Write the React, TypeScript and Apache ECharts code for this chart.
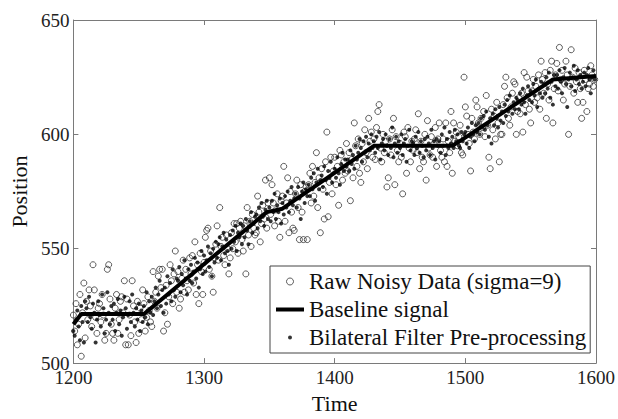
import React, { useEffect, useRef } from 'react';
import * as echarts from 'echarts';

const START_TIME = 1200;
const xTicks = { min: 1200, max: 1600, interval: 100 };
const yTicks = { min: 500, max: 650, interval: 50 };
const seriesNames = ['Raw Noisy Data (sigma=9)', 'Baseline signal', 'Bilateral Filter Pre-processing'];

// Raw noisy samples, one per time step starting at 1200
const rawPos = [
  521, 514, 526, 508, 517, 530, 503, 522, 535, 511,
  527, 519, 532, 525, 516, 543, 532, 520, 513, 524,
  526, 518, 530, 521, 510, 513, 541, 543, 528, 517,
  513, 510, 524, 530, 513, 519, 527, 529, 522, 536,
  508, 528, 508, 521, 512, 536, 525, 518, 509, 527,
  513, 524, 519, 532, 526, 514, 520, 529, 523, 518,
  516, 540, 527, 531, 524, 538, 541, 533, 541, 514,
  522, 534, 517, 529, 543, 536, 526, 539, 549, 531,
  540, 524, 528, 537, 545, 531, 541, 536, 532, 546,
  539, 547, 535, 553, 530, 543, 526, 548, 540, 530,
  544, 555, 558, 559, 541, 549, 538, 531, 546, 552,
  560, 545, 568, 551, 555, 547, 543, 556, 550, 539,
  546, 557, 550, 561, 553, 561, 548, 559, 562, 554,
  549, 560, 539, 568, 556, 562, 551, 565, 559, 556,
  557, 573, 566, 553, 561, 569, 563, 580, 559, 570,
  581, 565, 578, 570, 560, 567, 574, 562, 555, 571,
  573, 586, 562, 570, 581, 557, 575, 566, 559, 558,
  574, 580, 568, 554, 578, 566, 554, 575, 577, 554,
  578, 583, 570, 586, 573, 579, 592, 568, 581, 557,
  585, 576, 563, 588, 601, 564, 579, 590, 574, 584,
  590, 578, 586, 569, 593, 591, 580, 588, 583, 596,
  584, 592, 571, 589, 581, 605, 595, 586, 598, 583,
  579, 596, 588, 602, 592, 585, 607, 597, 601, 590,
  598, 589, 603, 610, 613, 594, 588, 600, 592, 597,
  577, 581, 598, 591, 602, 607, 578, 599, 593, 588,
  596, 590, 574, 601, 599, 583, 603, 594, 588, 597,
  593, 598, 602, 592, 609, 585, 597, 590, 588, 600,
  580, 606, 594, 591, 599, 590, 596, 603, 586, 598,
  605, 593, 590, 598, 588, 605, 586, 597, 592, 610,
  583, 605, 597, 601, 595, 599, 604, 592, 591, 625,
  612, 608, 600, 596, 584, 607, 601, 598, 615, 612,
  605, 600, 607, 603, 610, 599, 617, 604, 590, 585,
  611, 602, 608, 598, 614, 605, 588, 600, 600, 613,
  621, 625, 616, 607, 604, 612, 618, 623, 622, 600,
  610, 616, 609, 618, 601, 627, 613, 625, 619, 611,
  605, 619, 624, 614, 621, 616, 626, 611, 632, 624,
  618, 627, 607, 622, 615, 628, 632, 605, 620, 626,
  631, 619, 638, 624, 628, 615, 622, 632, 626, 600,
  621, 637, 625, 618, 629, 623, 614, 627, 620, 607,
  614, 628, 624, 610, 620, 622, 630, 626, 621, 624,
];

// Bilateral-filtered samples, one per time step starting at 1200
const filteredPos = [
  514, 512, 519, 523, 516, 510, 525, 518, 509, 527,
  524, 518, 529, 520, 515, 526, 522, 509, 519, 527,
  521, 516, 530, 524, 513, 519, 531, 522, 517, 525,
  519, 526, 514, 522, 528, 517, 523, 512, 520, 529,
  524, 515, 521, 527, 518, 530, 522, 516, 524, 519,
  526, 514, 523, 518, 525, 520, 531, 517, 527, 522,
  529, 521, 527, 533, 524, 530, 536, 525, 532, 522,
  533, 526, 538, 530, 535, 527, 541, 532, 529, 537,
  536, 542, 531, 539, 534, 545, 537, 530, 541, 536,
  543, 535, 540, 546, 537, 544, 533, 541, 549, 539,
  547, 540, 545, 551, 542, 548, 538, 550, 544, 553,
  546, 552, 555, 545, 551, 557, 548, 554, 549, 543,
  556, 550, 558, 553, 560, 549, 557, 555, 561, 552,
  560, 555, 563, 558, 552, 562, 566, 557, 561, 564,
  565, 559, 568, 562, 570, 564, 560, 567, 571, 563,
  568, 562, 571, 566, 574, 563, 569, 566, 572, 561,
  570, 565, 573, 568, 575, 566, 571, 577, 569, 572,
  574, 568, 577, 572, 563, 575, 579, 570, 576, 573,
  578, 573, 581, 576, 583, 571, 579, 585, 576, 580,
  582, 577, 586, 580, 574, 584, 581, 588, 579, 583,
  585, 581, 590, 583, 578, 587, 592, 584, 589, 586,
  589, 584, 593, 587, 591, 585, 595, 589, 592, 598,
  594, 588, 597, 592, 599, 590, 596, 593, 600, 594,
  597, 592, 599, 594, 601, 589, 596, 598, 593, 600,
  595, 591, 598, 594, 603, 590, 596, 599, 592, 597,
  594, 600, 591, 596, 598, 588, 595, 602, 593, 597,
  596, 591, 599, 594, 601, 592, 597, 595, 590, 598,
  593, 599, 596, 591, 602, 594, 597, 589, 598, 595,
  597, 592, 600, 595, 603, 591, 598, 594, 601, 596,
  599, 594, 602, 597, 600, 595, 594, 601, 597, 600,
  601, 596, 603, 594, 599, 605, 600, 597, 604, 601,
  605, 600, 607, 603, 608, 602, 610, 604, 599, 607,
  596, 609, 604, 611, 607, 603, 612, 606, 610, 605,
  613, 608, 615, 610, 617, 612, 609, 614, 611, 616,
  615, 611, 618, 613, 620, 614, 609, 617, 621, 615,
  619, 614, 622, 617, 624, 612, 620, 618, 623, 616,
  622, 618, 625, 620, 627, 616, 623, 613, 626, 621,
  626, 620, 628, 623, 618, 625, 629, 622, 612, 624,
  627, 621, 625, 630, 619, 624, 628, 622, 626, 620,
  623, 627, 621, 626, 629, 624, 618, 625, 628, 624,
];

// Baseline (piecewise linear) signal breakpoints
const baseTime = [1200, 1206, 1254, 1348, 1360, 1430, 1490, 1497, 1567, 1600];
const basePos = [517, 521.5, 521.5, 566, 567.5, 595, 595, 597.5, 624, 625.5];

const FONT = "'Liberation Serif', 'Times New Roman', serif";
const AXIS_COLOR = '#7a7a7a';
const DOT_ICON = 'path://M0 0M28 7M12 3.5a2 2 0 1 0 4 0a2 2 0 1 0 -4 0Z';
const LINE_ICON = 'path://M0 0M28 7M0 1.5L28 1.5L28 5.5L0 5.5Z';

export default function App() {
  const ref = useRef<HTMLDivElement>(null);

  useEffect(() => {
    if (!ref.current) return;
    const chart = echarts.init(ref.current, undefined, { renderer: 'svg' });

    const rawData = rawPos.map((v, i) => [START_TIME + i, v]);
    const filtData = filteredPos.map((v, i) => [START_TIME + i, v]);
    const baseData = baseTime.map((t, i) => [t, basePos[i]]);

    const axisCommon = {
      axisLine: { show: true, lineStyle: { color: AXIS_COLOR, width: 1 } },
      axisTick: { show: true, inside: true, length: 5, lineStyle: { color: AXIS_COLOR } },
      splitLine: { show: false },
    };
    const plain = (v: number) => String(v);

    chart.setOption({
      animation: false,
      backgroundColor: '#fff',
      grid: { left: 68, top: 20, width: 528, height: 352, containLabel: false },
      xAxis: [
        {
          type: 'value',
          ...xTicks,
          ...axisCommon,
          name: 'Time',
          nameLocation: 'middle',
          nameGap: 26,
          nameTextStyle: { fontFamily: FONT, fontSize: 22, color: '#111' },
          axisLabel: { fontFamily: FONT, fontSize: 19, color: '#222', margin: 5, formatter: plain },
        },
        {
          type: 'value',
          position: 'top',
          ...xTicks,
          ...axisCommon,
          axisLabel: { show: false },
        },
      ],
      yAxis: [
        {
          type: 'value',
          ...yTicks,
          ...axisCommon,
          name: 'Position',
          nameLocation: 'middle',
          nameRotate: 90,
          nameGap: 40,
          nameTextStyle: { fontFamily: FONT, fontSize: 22, color: '#111' },
          axisLabel: { fontFamily: FONT, fontSize: 19, color: '#222', margin: 4, formatter: plain },
        },
        {
          type: 'value',
          position: 'right',
          ...yTicks,
          ...axisCommon,
          axisLabel: { show: false },
        },
      ],
      legend: {
        orient: 'vertical',
        left: 270,
        top: 266,
        padding: [4, 4, 4, 6],
        itemGap: 5,
        itemWidth: 28,
        itemHeight: 7,
        borderColor: '#444',
        borderWidth: 1,
        backgroundColor: '#fff',
        selectedMode: false,
        textStyle: { fontFamily: FONT, fontSize: 23, color: '#111', lineHeight: 23 },
        data: [
          {
            name: seriesNames[0],
            icon: 'circle',
            itemStyle: { color: 'transparent', borderColor: '#333', borderWidth: 1 },
          },
          { name: seriesNames[1], icon: LINE_ICON, itemStyle: { color: '#000', borderWidth: 0 } },
          { name: seriesNames[2], icon: DOT_ICON, itemStyle: { color: '#000', borderWidth: 0 } },
        ],
      },
      series: [
        {
          name: seriesNames[0],
          type: 'scatter',
          data: rawData,
          symbol: 'circle',
          symbolSize: 6,
          itemStyle: { color: 'transparent', borderColor: '#333', borderWidth: 1 },
          emphasis: { disabled: true },
          silent: true,
          z: 2,
        },
        {
          name: seriesNames[1],
          type: 'line',
          data: baseData,
          symbol: 'none',
          lineStyle: { color: '#000', width: 4 },
          itemStyle: { color: '#000' },
          emphasis: { disabled: true },
          silent: true,
          z: 3,
        },
        {
          name: seriesNames[2],
          type: 'scatter',
          data: filtData,
          symbol: 'circle',
          symbolSize: 4,
          itemStyle: { color: '#000' },
          emphasis: { disabled: true },
          silent: true,
          z: 4,
        },
      ],
    });

    return () => chart.dispose();
  }, []);

  return (
    <div
      ref={ref}
      style={{ position: 'fixed', left: 0, top: 0, width: 618, height: 419 }}
    />
  );
}
